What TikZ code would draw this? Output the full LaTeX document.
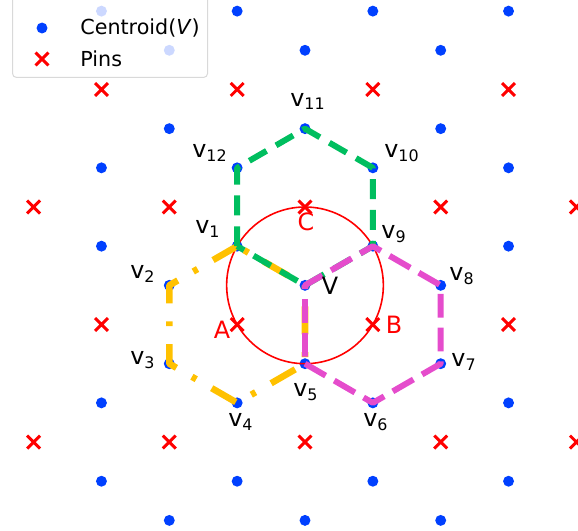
\documentclass[tikz,border=0pt]{standalone}
\usepackage{fontspec}
\setmainfont{DejaVu Sans}
\usepackage{xcolor}
\usepackage{tikz}
\usetikzlibrary{calc,shapes.misc}

\definecolor{dotblue}{RGB}{0,64,255}
\definecolor{pinred}{RGB}{255,0,0}
\definecolor{hexgreen}{RGB}{0,190,95}
\definecolor{hexyellow}{RGB}{255,193,0}
\definecolor{hexpink}{RGB}{229,76,204}
\newcommand{\hs}{0.288675}

\begin{document}
\begin{tikzpicture}[x=2.4cm,y=2.4cm,
  centroid/.style={circle,fill=dotblue,inner sep=0pt,minimum size=5.5pt},
  pin/.style={cross out,draw=pinred,line width=1.5pt,inner sep=0pt,minimum size=5pt},
  hexA/.style={draw=hexyellow,line width=3.3pt,line join=round,dash pattern=on 14pt off 9pt on 2.5pt off 9pt},
  hexB/.style={draw=hexpink,line width=3pt,line join=round,dash pattern=on 12pt off 5pt},
  hexC/.style={draw=hexgreen,line width=3pt,line join=round,dash pattern=on 10pt off 5.5pt},
  ring/.style={draw=pinred,line width=0.8pt},
  lbl/.style={font=\fontsize{12}{14}\selectfont,inner sep=0pt},
  pinlbl/.style={lbl,text=pinred},
  legendbox/.style={draw=black!15,fill=white,fill opacity=0.8,rounded corners=2pt,line width=0.5pt,inner sep=0pt},
  lgtext/.style={font=\fontsize{10.4}{12}\selectfont,inner sep=0pt,anchor=west}]
\useasboundingbox (-2.2476,-2.3803) rectangle (2.0118,1.5254);
\clip (-2.2476,-2.3803) rectangle (2.0118,1.5254);

% centroids of the pin triangles
\foreach \x [count=\i] in {-1.5,-0.5,0.5,1.5}
  \foreach \k [count=\j] in {5,1,-1,-5,-7}
    \node[centroid] (da\i\j) at (\x,{\k*\hs}) {};
\foreach \x [count=\i] in {-1,0,1}
  \foreach \k [count=\j] in {4,2,-2,-4,-8}
    \node[centroid] (db\i\j) at (\x,{\k*\hs}) {};

% pins (pb3 = C, pc2 = A, pc3 = B)
\foreach \x [count=\i] in {-1.5,-0.5,0.5,1.5} {
  \node[pin] (pa\i) at (\x,{3*\hs}) {};
  \node[pin] (pc\i) at (\x,{-3*\hs}) {};
}
\foreach \x [count=\i] in {-2,...,2} {
  \node[pin] (pb\i) at (\x,0) {};
  \node[pin] (pd\i) at (\x,{-6*\hs}) {};
}

% hexagon corners
\coordinate (V) at (0,{-2*\hs});
\coordinate (v1) at (-0.5,{-1*\hs});
\coordinate (v2) at (-1,{-2*\hs});
\coordinate (v3) at (-1,{-4*\hs});
\coordinate (v4) at (-0.5,{-5*\hs});
\coordinate (v5) at (0,{-4*\hs});
\coordinate (v6) at (0.5,{-5*\hs});
\coordinate (v7) at (1,{-4*\hs});
\coordinate (v8) at (1,{-2*\hs});
\coordinate (v9) at (0.5,{-1*\hs});
\coordinate (v10) at (0.5,{1*\hs});
\coordinate (v11) at (0,{2*\hs});
\coordinate (v12) at (-0.5,{1*\hs});

\draw[ring] (V) circle [radius=2*\hs];
\draw[hexA] (v1) -- (v2) -- (v3) -- (v4) -- (v5) -- (V) -- cycle;
\draw[hexC] (v1) -- (v12) -- (v11) -- (v10) -- (v9) -- (V) -- cycle;
\draw[hexB] (v5) -- (v6) -- (v7) -- (v8) -- (v9) -- (V) -- cycle;

% labels
\node[lbl] (l1) at ($(v1)+(-0.215,0.127)$) {v\textsubscript{1}};
\node[lbl] (l2) at ($(v2)+(-0.194,0.083)$) {v\textsubscript{2}};
\node[lbl] (l3) at ($(v3)+(-0.194,0.028)$) {v\textsubscript{3}};
\node[lbl] (l4) at ($(v4)+(0.028,-0.141)$) {v\textsubscript{4}};
\node[lbl] (l5) at ($(v5)+(0.007,-0.208)$) {v\textsubscript{5}};
\node[lbl] (l6) at ($(v6)+(0.023,-0.141)$) {v\textsubscript{6}};
\node[lbl] (l7) at ($(v7)+(0.172,0.013)$) {v\textsubscript{7}};
\node[lbl] (l8) at ($(v8)+(0.157,0.069)$) {v\textsubscript{8}};
\node[lbl] (l9) at ($(v9)+(0.156,0.09)$) {v\textsubscript{9}};
\node[lbl] (l10) at ($(v10)+(0.215,0.11)$) {v\textsubscript{10}};
\node[lbl] (l11) at ($(v11)+(0.022,0.2)$) {v\textsubscript{11}};
\node[lbl] (l12) at ($(v12)+(-0.2,0.11)$) {v\textsubscript{12}};
\node[lbl] (lV) at ($(V)+(0.184,0)$) {V};
\node[pinlbl] (lC) at ($(pb3)+(0.007,-0.111)$) {C};
\node[pinlbl] (lA) at ($(pc2)+(-0.112,-0.04)$) {A};
\node[pinlbl] (lB) at ($(pc3)+(0.156,0)$) {B};

% legend
\node[legendbox,anchor=south west,minimum width=3.45cm,minimum height=1.52cm] (legend) at (-2.159,0.951) {};
\node[centroid] (lgdot) at (-1.938,1.319) {};
\node[pin] (lgpin) at (-1.938,1.091) {};
\node[lgtext] (lgc) at (-1.658,1.319) {Centroid(\textit{V})};
\node[lgtext] (lgp) at (-1.658,1.091) {Pins};
\end{tikzpicture}
\end{document}
